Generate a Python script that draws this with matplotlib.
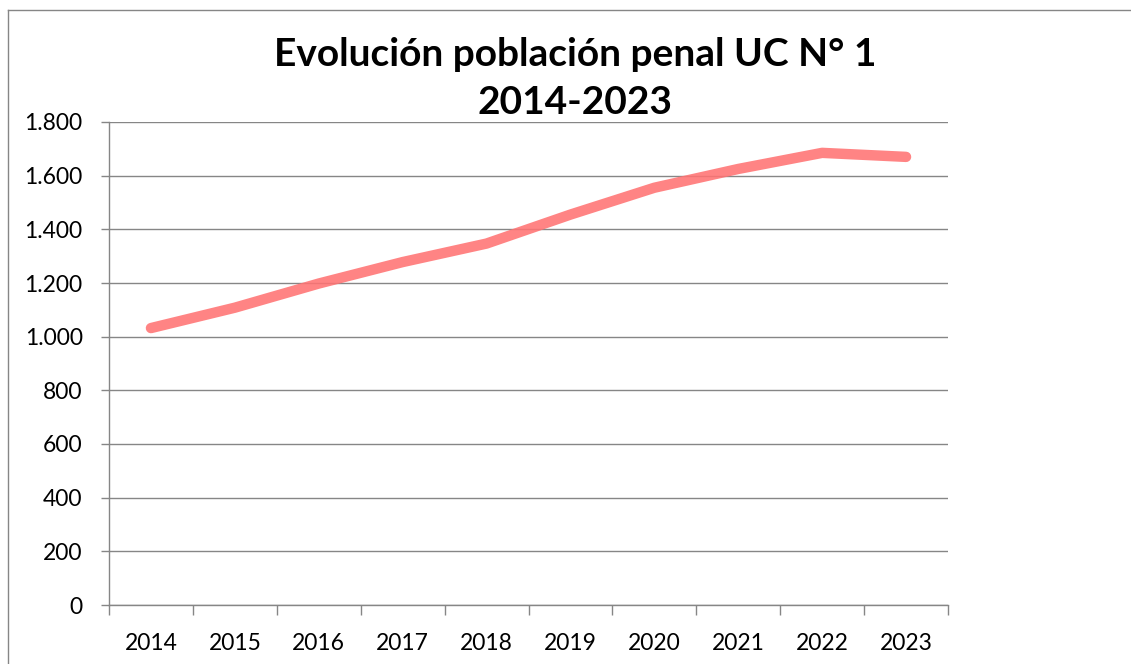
import matplotlib
matplotlib.use("Agg")
import matplotlib.pyplot as plt
from matplotlib.ticker import FuncFormatter, FixedLocator
from matplotlib.lines import Line2D

years = ["2014", "2015", "2016", "2017", "2018", "2019", "2020", "2021", "2022", "2023"]
poblacion = [1032, 1108, 1198, 1278, 1347, 1455, 1555, 1625, 1685, 1670]
y_ticks = [0, 200, 400, 600, 800, 1000, 1200, 1400, 1600, 1800]

plt.rcParams['font.family'] = ['Lato', 'DejaVu Sans']

fig = plt.figure(figsize=(11.31, 6.64), dpi=100)
ax = fig.add_axes([109/1131, 59/664, (948-109)/1131, (605-122)/664])

x = list(range(len(years)))
ax.plot(x, poblacion, color="#ff7373", alpha=0.88, lw=7.5, solid_capstyle="round", solid_joinstyle="round")

ax.set_xlim(-0.5, len(years) - 0.5)
ax.set_ylim(0, 1800)
ax.set_yticks(y_ticks)
ax.yaxis.set_major_formatter(FuncFormatter(lambda v, p: f"{int(v):,}".replace(",", ".")))
ax.set_xticks(x)
ax.set_xticklabels(years)
ax.xaxis.set_minor_locator(FixedLocator([i - 0.5 for i in range(len(years) + 1)]))
ax.tick_params(axis="x", which="major", length=0, pad=20, labelsize=16.5)
ax.tick_params(axis="x", which="minor", length=7, width=1, color="#868686", direction="out")
ax.tick_params(axis="y", length=6, width=1, color="#868686", labelsize=16.5, pad=13)
ax.grid(axis="y", color="#868686", lw=1)
ax.set_axisbelow(True)
for s in ["top", "right"]:
    ax.spines[s].set_visible(False)
for s in ["left", "bottom"]:
    ax.spines[s].set_color("#868686")
    ax.spines[s].set_linewidth(1)

fig.text(575/1131, 1 - 55/664, "Evolución población penal UC N° 1", ha="center", va="center",
         fontsize=28, fontweight="bold")
fig.text(575/1131, 1 - 103/664, "2014-2023", ha="center", va="center",
         fontsize=28, fontweight="bold")

# outer chart frame
fig.add_artist(Line2D([8/1131, 8/1131], [0, 1 - 10/664], transform=fig.transFigure, color="#868686", lw=1))
fig.add_artist(Line2D([8/1131, 1], [1 - 10/664, 1 - 10/664], transform=fig.transFigure, color="#868686", lw=1))

fig.savefig("out.png", dpi=100)
